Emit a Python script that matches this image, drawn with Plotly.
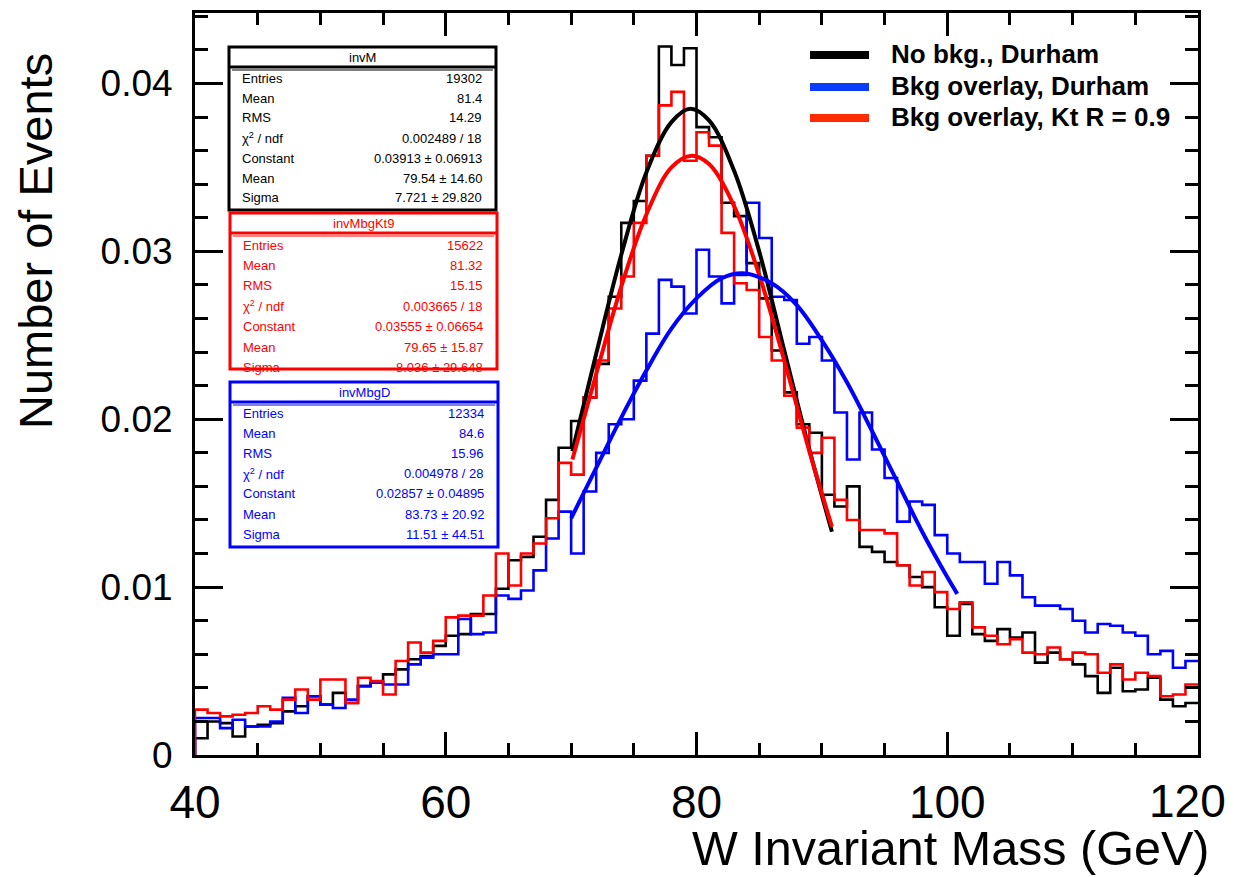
import numpy as np
import plotly.graph_objects as go

# ---------------- data ----------------
bin_edges = np.linspace(40, 120, 81)  # 1 GeV bins, 40 .. 120
x_tick_values = [40, 60, 80, 100, 120]

no_bkg_durham = [
    0.0010, 0.0020, 0.0019, 0.0011, 0.0017, 0.0018, 0.0019, 0.0026, 0.0029, 0.0035,
    0.0030, 0.0037, 0.0031, 0.0041, 0.0043, 0.0048, 0.0051, 0.0057, 0.0059, 0.0065,
    0.0071, 0.0072, 0.0084, 0.0084, 0.0099, 0.0116, 0.0118, 0.0130, 0.0152, 0.0183,
    0.0199, 0.0213, 0.0233, 0.0273, 0.0317, 0.0330, 0.0357, 0.0422, 0.0411, 0.0421,
    0.0374, 0.0368, 0.0329, 0.0321, 0.0293, 0.0272, 0.0241, 0.0216, 0.0197, 0.0192,
    0.0155, 0.0148, 0.0160, 0.0124, 0.0121, 0.0115, 0.0113, 0.0106, 0.0100, 0.0088,
    0.0071, 0.0090, 0.0072, 0.0068, 0.0075, 0.0070, 0.0073, 0.0055, 0.0061, 0.0057,
    0.0054, 0.0047, 0.0037, 0.0052, 0.0038, 0.0039, 0.0046, 0.0033, 0.0029, 0.0031,
]
bkg_overlay_kt = [
    0.0027, 0.0025, 0.0023, 0.0024, 0.0025, 0.0029, 0.0027, 0.0033, 0.0039, 0.0033,
    0.0045, 0.0045, 0.0031, 0.0046, 0.0044, 0.0036, 0.0056, 0.0067, 0.0061, 0.0068,
    0.0082, 0.0083, 0.0083, 0.0095, 0.0120, 0.0101, 0.0120, 0.0126, 0.0141, 0.0174,
    0.0167, 0.0213, 0.0235, 0.0266, 0.0285, 0.0317, 0.0357, 0.0387, 0.0395, 0.0354,
    0.0371, 0.0363, 0.0311, 0.0281, 0.0277, 0.0249, 0.0235, 0.0214, 0.0195, 0.0180,
    0.0189, 0.0152, 0.0140, 0.0134, 0.0134, 0.0132, 0.0113, 0.0101, 0.0109, 0.0097,
    0.0087, 0.0091, 0.0076, 0.0071, 0.0066, 0.0069, 0.0061, 0.0060, 0.0064, 0.0057,
    0.0061, 0.0060, 0.0049, 0.0054, 0.0045, 0.0049, 0.0047, 0.0035, 0.0036, 0.0042,
]
bkg_overlay_durham = [
    0.0022, 0.0022, 0.0016, 0.0021, 0.0017, 0.0017, 0.0020, 0.0034, 0.0025, 0.0035,
    0.0030, 0.0028, 0.0033, 0.0041, 0.0043, 0.0042, 0.0042, 0.0054, 0.0058, 0.0060,
    0.0060, 0.0081, 0.0072, 0.0073, 0.0095, 0.0093, 0.0098, 0.0110, 0.0129, 0.0145,
    0.0120, 0.0157, 0.0180, 0.0197, 0.0200, 0.0223, 0.0251, 0.0283, 0.0279, 0.0263,
    0.0301, 0.0285, 0.0269, 0.0286, 0.0329, 0.0308, 0.0273, 0.0271, 0.0245, 0.0249,
    0.0235, 0.0204, 0.0176, 0.0204, 0.0182, 0.0165, 0.0139, 0.0151, 0.0149, 0.0131,
    0.0120, 0.0115, 0.0115, 0.0102, 0.0115, 0.0107, 0.0094, 0.0089, 0.0089, 0.0087,
    0.0080, 0.0073, 0.0078, 0.0077, 0.0073, 0.0071, 0.0060, 0.0062, 0.0052, 0.0056,
]

# fitted curves
fit_black_x = [70.1, 72, 74, 76, 78, 79.5, 81, 83, 85, 87, 89, 90.8]
fit_black_y = [0.0181, 0.0239, 0.0298, 0.0347, 0.0377, 0.0385, 0.0378, 0.0348, 0.0300, 0.0241, 0.0182, 0.0133]
fit_red_x = [70.1, 72, 74, 76, 78, 79.6, 81, 83, 85, 87, 89, 90.8]
fit_red_y = [0.0176, 0.0227, 0.0279, 0.0322, 0.0350, 0.0357, 0.0352, 0.0327, 0.0286, 0.0235, 0.0181, 0.0136]
fit_blue_x = [70, 72, 74, 76, 78, 80, 82, 83.7, 86, 88, 90, 92, 94, 96, 98, 100, 100.8]
fit_blue_y = [0.0141, 0.0171, 0.0201, 0.0229, 0.0254, 0.0272, 0.0284, 0.0287, 0.0281, 0.0268,
              0.0247, 0.0222, 0.0193, 0.0163, 0.0133, 0.0106, 0.0096]

legend_labels = ["No bkg., Durham", "Bkg overlay, Durham", "Bkg overlay, Kt R = 0.9"]
legend_colors = ["#000000", "#0a3cff", "#ff2a00"]

stat_boxes = [
    dict(title="invM", color="#000000",
         rows=[("Entries", "19302"), ("Mean", "81.4"), ("RMS", "14.29"),
               ("χ<sup>2</sup> / ndf", "0.002489 / 18"), ("Constant", "0.03913 ± 0.06913"),
               ("Mean", "79.54 ± 14.60"), ("Sigma", "7.721 ± 29.820")]),
    dict(title="invMbgKt9", color="#ff0000",
         rows=[("Entries", "15622"), ("Mean", "81.32"), ("RMS", "15.15"),
               ("χ<sup>2</sup> / ndf", "0.003665 / 18"), ("Constant", "0.03555 ± 0.06654"),
               ("Mean", "79.65 ± 15.87"), ("Sigma", "8.036 ± 29.648")]),
    dict(title="invMbgD", color="#0000ff",
         rows=[("Entries", "12334"), ("Mean", "84.6"), ("RMS", "15.96"),
               ("χ<sup>2</sup> / ndf", "0.004978 / 28"), ("Constant", "0.02857 ± 0.04895"),
               ("Mean", "83.73 ± 20.92"), ("Sigma", "11.51 ± 44.51")]),
]

# ---------------- figure ----------------
W, H = 1234, 877
L, R, T, B = 195, 36, 13, 122
PW, PH = W - L - R, H - T - B


def px(x):
    return (x - L) / PW


def py(y):
    return (H - B - y) / PH


def step_xy(vals):
    xs = [bin_edges[0]]
    ys = [0.0]
    for i, v in enumerate(vals):
        xs += [bin_edges[i], bin_edges[i + 1]]
        ys += [v, v]
    return xs, ys


fig = go.Figure()
for vals, col in [(no_bkg_durham, "#000000"), (bkg_overlay_durham, "#0000ff"), (bkg_overlay_kt, "#ff0000")]:
    xs, ys = step_xy(vals)
    fig.add_trace(go.Scatter(x=xs, y=ys, mode="lines", line=dict(color=col, width=2.6),
                             hoverinfo="skip", showlegend=False))

for fx, fy, col in [(fit_black_x, fit_black_y, "#000000"), (fit_red_x, fit_red_y, "#ff0000"),
                    (fit_blue_x, fit_blue_y, "#0000ff")]:
    fig.add_trace(go.Scatter(x=fx, y=fy, mode="lines", line=dict(color=col, width=4, shape="spline"),
                             hoverinfo="skip", showlegend=False))

axis_common = dict(showgrid=False, zeroline=False, showline=True, linecolor="black", linewidth=3,
                   ticks="inside", tickcolor="black", tickwidth=2.5, mirror="allticks",
                   ticklabeloverflow="allow", automargin=False)

tick_font_x = dict(family="Liberation Sans", size=46, color="black")
# last label (at the right frame edge) is drawn as an annotation, shifted inward like the original
fig.update_xaxes(range=[40, 120], tickmode="array", tickvals=x_tick_values,
                 ticktext=[str(v) for v in x_tick_values[:-1]] + [""], ticklen=23,
                 minor=dict(tick0=40, dtick=5, ticklen=12, ticks="inside", tickcolor="black", tickwidth=2.5),
                 tickfont=tick_font_x, ticklabelstandoff=5, **axis_common)
fig.update_yaxes(range=[0, 0.0442], tickmode="linear", tick0=0, dtick=0.01, ticklen=28,
                 minor=dict(tick0=0, dtick=0.002, ticklen=13, ticks="inside", tickcolor="black", tickwidth=2.5),
                 tickfont=dict(family="Liberation Sans", size=37, color="black"),
                 ticklabelstandoff=12, **axis_common)

annotations = []
shapes = []

annotations.append(dict(text=str(x_tick_values[-1]), xref="x", yref="paper", x=x_tick_values[-1], y=0,
                        xanchor="center", yanchor="top", xshift=-11, yshift=-18, showarrow=False,
                        font=tick_font_x))

# axis titles
annotations.append(dict(text="W Invariant Mass (GeV)", xref="paper", yref="paper", x=px(1211), y=py(848),
                        xanchor="right", yanchor="middle", showarrow=False,
                        font=dict(family="Liberation Sans", size=48.5, color="black")))
annotations.append(dict(text="Number of Events", xref="paper", yref="paper", x=px(35), y=py(241),
                        xanchor="center", yanchor="middle", textangle=-90, showarrow=False,
                        font=dict(family="Liberation Sans", size=47, color="black")))

# legend
leg_y = [55, 87, 118]
for lab, col, yy in zip(legend_labels, legend_colors, leg_y):
    shapes.append(dict(type="line", xref="paper", yref="paper", x0=px(810), x1=px(869), y0=py(yy), y1=py(yy),
                       line=dict(color=col, width=8)))
    annotations.append(dict(text="<b>" + lab + "</b>", xref="paper", yref="paper", x=px(889), y=py(yy - 1),
                            xanchor="left", yanchor="middle", showarrow=False,
                            font=dict(family="Liberation Sans", size=26, color="black")))

# stat boxes: (left, top, right, bottom, first row y, row spacing)
box_geom = [(229, 47, 496, 210, 78, 20.0), (230, 213, 497, 369, 245, 20.4), (230, 382, 498, 547, 413, 20.2)]
for box, (x0, y0, x1, y1, r0, dr) in zip(stat_boxes, box_geom):
    col = box["color"]
    shapes.append(dict(type="rect", xref="paper", yref="paper", x0=px(x0), x1=px(x1), y0=py(y0), y1=py(y1),
                       line=dict(color=col, width=3), fillcolor="white", layer="above"))
    shapes.append(dict(type="line", xref="paper", yref="paper", x0=px(x0), x1=px(x1), y0=py(y0 + 20),
                       y1=py(y0 + 20), line=dict(color=col, width=3), layer="above"))
    shapes.append(dict(type="line", xref="paper", yref="paper", x0=px(x0 + 3), x1=px(x1 - 3), y0=py(y0 + 23),
                       y1=py(y0 + 23), line=dict(color=col, width=1), layer="above"))
    annotations.append(dict(text=box["title"], xref="paper", yref="paper", x=px((x0 + x1) / 2), y=py(y0 + 10),
                            xanchor="center", yanchor="middle", showarrow=False,
                            font=dict(family="Liberation Sans", size=13, color=col)))
    for i, (lab, val) in enumerate(box["rows"]):
        yy = r0 + dr * i
        annotations.append(dict(text=lab, xref="paper", yref="paper", x=px(x0 + 11), y=py(yy),
                                xanchor="left", yanchor="middle", showarrow=False,
                                font=dict(family="Liberation Sans", size=13, color=col)))
        annotations.append(dict(text=val, xref="paper", yref="paper", x=px(x1 - 12), y=py(yy),
                                xanchor="right", yanchor="middle", showarrow=False,
                                font=dict(family="Liberation Sans", size=13, color=col)))

fig.update_layout(width=W, height=H, margin=dict(l=L, r=R, t=T, b=B, pad=0, autoexpand=False),
                  plot_bgcolor="white", paper_bgcolor="white", showlegend=False,
                  annotations=annotations, shapes=shapes)

fig.write_html("out.html")
